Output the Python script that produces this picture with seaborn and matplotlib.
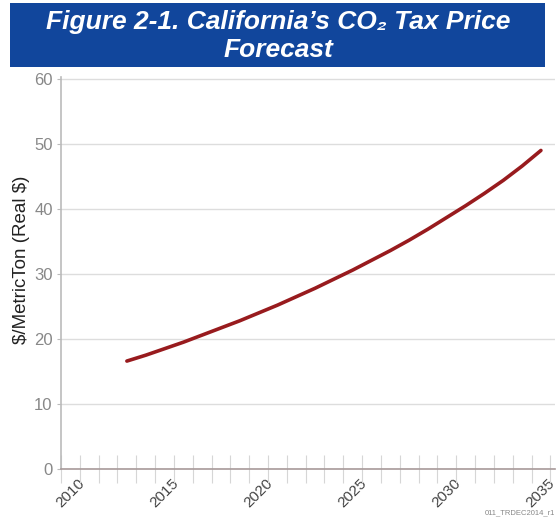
import numpy as np
import pandas as pd
import matplotlib
matplotlib.use("Agg")
import matplotlib.pyplot as plt
import seaborn as sns
from matplotlib.patches import Rectangle
from matplotlib.ticker import MultipleLocator

# data
years = [2013, 2014, 2015, 2016, 2017, 2018, 2019, 2020, 2021, 2022, 2023, 2024,
         2025, 2026, 2027, 2028, 2029, 2030, 2031, 2032, 2033, 2034, 2035]
price = [16.6, 17.5, 18.5, 19.5, 20.6, 21.7, 22.8, 24.0, 25.2, 26.5, 27.8, 29.2,
         30.6, 32.1, 33.6, 35.2, 36.9, 38.7, 40.5, 42.4, 44.4, 46.6, 49.0]
x_ticks = [2010, 2015, 2020, 2025, 2030, 2035]
y_ticks = [0, 10, 20, 30, 40, 50, 60]

df = pd.DataFrame({"year": years, "price": price})

sns.set_theme(style="white")
plt.rcParams["font.family"] = ["Liberation Sans", "DejaVu Sans"]

fig = plt.figure(figsize=(5.57, 5.23), dpi=100)
ax = fig.add_axes([0.1095, 0.1033, 0.887, 0.7495])

# ── title banner ─────────────────────────────────────────
fig.patches.append(Rectangle((0.018, 0.872), 0.961, 0.122, transform=fig.transFigure,
                             facecolor="#11469C", edgecolor="none", zorder=0))
fig.text(0.5, 0.958, "Figure 2-1. California\u2019s CO\u2082 Tax Price", ha="center", va="center",
         color="white", fontsize=19, fontweight="bold", fontstyle="italic")
fig.text(0.5, 0.904, "Forecast", ha="center", va="center",
         color="white", fontsize=19, fontweight="bold", fontstyle="italic")

# ── line ─────────────────────────────────────────────────
sns.lineplot(data=df, x="year", y="price", ax=ax, color="#981B1E", linewidth=2.6)

ax.set_xlim(2009.5, 2035.75)
ax.set_ylim(0, 60.3)
ax.set_xticks(x_ticks)
ax.set_xticklabels([str(t) for t in x_ticks], rotation=45, ha="center", va="top",
                   color="#444444", fontsize=11)
ax.set_yticks(y_ticks)
ax.set_yticklabels([str(t) for t in y_ticks], color="#888888", fontsize=12)
ax.xaxis.set_minor_locator(MultipleLocator(1, offset=0.5))
ax.tick_params(axis="x", which="both", bottom=True)
ax.tick_params(axis="x", which="major", length=0, pad=5)
ax.tick_params(axis="x", which="minor", direction="inout", length=20, width=0.8, color="#D6D6D6")
ax.tick_params(axis="y", which="major", left=True, length=3, width=0.8, color="#BBBBBB",
               direction="out", pad=3)
ax.yaxis.grid(True, color="#DDDDDD", linewidth=1)
ax.xaxis.grid(False)

for s in ["top", "right"]:
    ax.spines[s].set_visible(False)
ax.spines["left"].set_color("#BBBBBB")
ax.spines["bottom"].set_color("#A89A9A")
ax.spines["left"].set_linewidth(1.2)
ax.spines["bottom"].set_linewidth(1.2)

ax.set_xlabel("")
ax.set_ylabel("$/MetricTon (Real $)".replace("$", r"\$"), fontsize=13.5, color="#222222")
ax.yaxis.set_label_coords(-0.062, 0.533)

fig.text(0.996, 0.012, "011_TRDEC2014_r1", ha="right", va="bottom", fontsize=5.5, color="#888888")

fig.savefig("out.png", dpi=100)
